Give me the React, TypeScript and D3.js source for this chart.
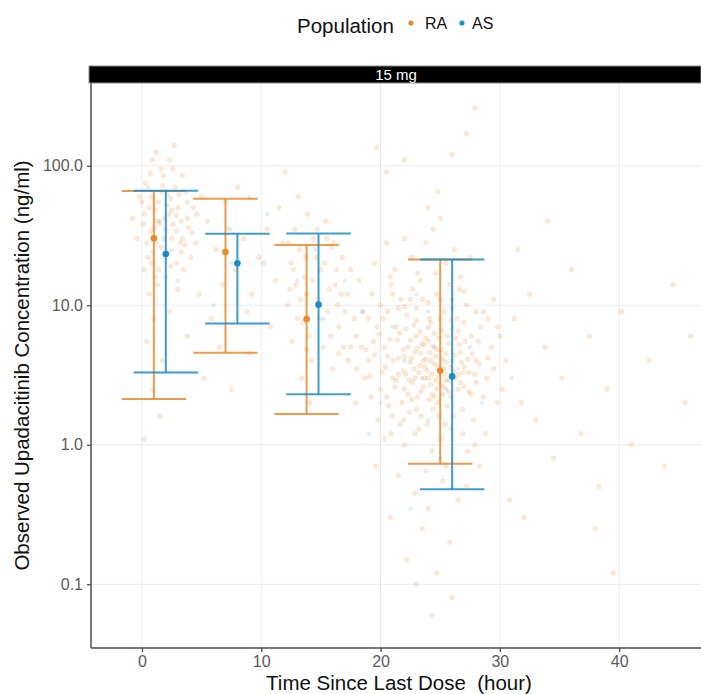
import React, { useEffect, useRef } from 'react';
import * as d3 from 'd3';

// Error bar summary per population: time, mean, lower, upper
const raTimes = [1.0, 7.0, 13.8, 25.0];
const raMeans = [30.2, 24.1, 7.96, 3.39];
const raLower = [2.13, 4.57, 1.66, 0.73];
const raUpper = [65.9, 57.9, 27.0, 21.3];

const asTimes = [2.0, 8.0, 14.8, 26.0];
const asMeans = [23.3, 20.0, 10.1, 3.09];
const asLower = [3.3, 7.41, 2.3, 0.479];
const asUpper = [66.3, 32.5, 32.7, 21.3];

const xTicks = [0, 10, 20, 30, 40];
const yTicks = [0.1, 1, 10, 100];

// Observed points (time, concentration)
const raPoints: [number, number][] = [
  [0.2, 45], [0.8, 60], [1.5, 38], [2.1, 52], [2.8, 70], [1.2, 28], [0.5, 22], [3.3, 40], [1.8, 85], [2.5, 30],
  [0.9, 110], [3.8, 55], [1.4, 18], [2.2, 24], [0.3, 75], [2.9, 20], [4.2, 33], [1.1, 48], [1.9, 42], [2.6, 95],
  [3.1, 62], [0.7, 34], [1.6, 26], [2.4, 58], [3.6, 27], [4.6, 45], [-0.4, 30], [1.3, 14], [2.0, 16], [0.6, 12],
  [3.0, 13], [1.0, 8], [2.3, 9], [0.4, 5.5], [1.7, 4], [0.9, 2.5], [1.5, 1.6], [0.2, 1.1], [3.5, 18], [4.1, 22],
  [2.7, 140], [1.2, 125], [5.0, 60], [3.4, 85], [0.0, 55], [2.0, 35], [1.6, 65], [2.9, 44], [3.9, 36], [0.8, 20],
  [0.1, 38], [0.6, 50], [1.0, 36], [1.4, 55], [1.8, 30], [2.2, 45], [2.6, 38], [3.0, 50], [3.4, 30], [3.8, 42],
  [0.4, 28], [0.9, 24], [1.3, 40], [1.7, 72], [2.1, 62], [2.5, 48], [2.9, 34], [3.3, 24], [3.7, 65], [4.3, 50],
  [0.2, 18], [1.1, 16], [2.4, 19], [3.2, 28], [4.5, 28], [1.6, 95], [0.7, 88], [2.3, 110], [-0.2, 60], [-0.8, 42],
  [5.5, 40], [6.2, 25], [7.0, 55], [7.8, 18], [8.5, 30], [9.2, 12], [5.8, 8], [6.8, 14], [8.0, 70], [9.8, 22],
  [10.5, 35], [11.2, 15], [10.8, 7], [6.5, 5], [9.0, 4.5], [4.8, 12], [7.3, 35], [11.5, 50], [12.0, 90], [5.2, 3],
  [8.8, 9], [10.2, 20], [3.8, 6], [7.5, 2.5], [11.8, 28],
  [12.5, 20], [13.2, 25], [13.8, 12], [14.4, 30], [15.0, 18], [15.6, 9], [16.2, 14], [13.0, 8], [14.0, 6], [12.8, 35],
  [15.4, 40], [16.8, 22], [12.2, 10], [13.6, 16], [14.8, 11], [15.9, 26], [16.5, 7], [17.2, 12], [14.2, 4], [13.4, 3],
  [15.2, 5], [12.6, 5.5], [16.0, 3.5], [17.5, 18], [14.6, 22], [13.9, 45], [12.9, 14], [15.7, 13], [16.9, 5], [14.1, 2],
  [17.8, 8], [12.3, 28], [13.1, 60], [15.5, 30], [16.4, 10],
  [12.7, 18], [13.3, 11], [13.7, 22], [14.3, 15], [14.9, 8], [15.3, 20], [15.8, 6], [16.3, 18], [16.7, 12], [13.5, 7.5],
  [14.7, 35], [12.4, 13], [17.3, 4], [16.1, 28], [13.8, 4.8],
  [21.0, 3.0], [21.5, 4.2], [22.0, 2.5], [22.3, 5.0], [22.8, 3.5], [23.1, 2.2], [23.4, 4.5], [23.7, 3.0], [24.0, 5.5], [24.2, 2.7],
  [24.5, 3.8], [24.8, 2.0], [25.1, 4.8], [25.4, 3.2], [25.7, 2.4], [26.0, 4.0], [26.3, 3.0], [26.6, 5.2], [27.0, 2.6], [22.5, 3.9],
  [23.9, 3.4], [24.6, 4.3], [25.9, 3.6], [21.8, 2.0], [23.3, 6.5], [24.4, 1.8], [25.6, 6.0], [26.8, 3.9], [22.1, 6.8], [24.9, 3.1],
  [23.6, 2.6], [25.2, 2.3],
  [21.2, 2.6], [21.9, 3.4], [22.4, 2.9], [22.9, 4.6], [23.3, 3.7], [23.8, 4.1], [24.3, 3.2], [24.7, 2.5], [25.3, 3.5], [25.8, 2.9],
  [26.2, 4.4], [26.7, 2.8], [27.3, 4.1], [22.6, 2.1], [23.6, 5.2], [24.5, 6.3], [25.5, 4.5], [26.5, 6.5], [21.4, 5.6], [22.8, 7.2],
  [24.2, 7.5], [25.9, 7.8], [23.0, 1.8], [24.1, 2.1], [25.6, 1.9], [27.6, 2.3], [20.6, 4.3], [21.0, 1.6], [27.9, 3.2], [24.9, 5.8],
  [19.1, 3.1], [19.5, 4.4], [19.9, 6.2], [20.1, 3.3], [20.5, 2.2], [20.8, 5.7], [21.1, 4.0], [21.3, 2.9], [21.6, 6.3], [21.9, 4.8],
  [22.1, 3.2], [22.3, 2.3], [22.5, 5.6], [22.7, 2.8], [22.9, 3.0], [23.1, 4.9], [23.2, 3.3], [23.4, 2.4], [23.6, 4.0], [23.8, 5.8],
  [24.0, 3.0], [24.1, 4.6], [24.3, 2.3], [24.4, 5.1], [24.6, 2.9], [24.8, 3.6], [25.0, 2.7], [25.1, 6.6], [25.3, 2.6], [25.5, 3.9],
  [25.7, 5.3], [25.9, 2.2], [26.1, 3.4], [26.3, 5.8], [26.5, 2.5], [26.7, 4.6], [26.9, 3.3], [27.1, 5.5], [27.4, 2.4], [27.7, 4.5],
  [28.0, 2.8], [28.3, 3.8], [28.6, 2.2], [29.0, 4.2], [22.0, 4.3], [23.0, 6.0], [24.0, 6.9], [25.0, 8.0], [26.0, 6.9], [27.0, 3.6],
  [21.5, 3.2], [22.6, 4.2], [23.5, 5.3], [24.5, 2.2], [25.5, 2.9], [26.5, 3.2], [24.2, 4.0], [23.7, 3.6], [25.2, 4.1], [24.7, 4.8],
  [20.0, 10], [21.0, 12], [22.0, 9.8], [23.0, 7.8], [24.0, 10.5], [25.0, 11], [26.0, 9.5], [27.0, 12.5], [28.0, 9], [22.5, 11],
  [20.9, 1.2], [21.9, 1.5], [22.9, 1.2], [23.9, 1.4], [24.9, 1.6], [25.9, 1.3], [26.9, 1.8], [27.9, 1.0], [23.4, 1.6], [25.4, 1.4],
  [19.0, 8], [18.4, 5], [29.5, 3.5], [30.2, 2.5], [17.0, 9], [18.0, 3.5], [16.5, 4.5], [29.8, 7], [20.8, 16], [26.6, 13],
  [18.0, 6], [18.5, 9], [19.0, 4], [19.3, 12], [19.7, 7], [20.0, 2.5], [20.3, 5], [20.6, 9], [20.9, 14], [21.3, 7],
  [21.7, 11], [22.2, 8.5], [22.7, 13], [23.0, 9.5], [23.5, 11], [24.1, 8], [24.7, 12], [25.3, 9], [25.8, 14], [26.4, 8],
  [27.2, 10], [27.6, 6], [28.0, 4], [28.4, 7], [28.9, 3], [29.3, 5], [29.8, 2], [27.8, 1.5], [26.9, 1.2], [26.1, 1.6],
  [25.0, 1.1], [24.3, 0.9], [23.2, 1.3], [22.4, 1.7], [21.6, 1.4], [20.7, 1.9], [19.8, 1.5], [19.2, 2.2], [18.7, 3], [17.9, 2],
  [20.4, 3.6], [28.6, 9], [27.4, 3.3], [29.5, 11],
  [19.4, 5.5], [20.2, 8], [21.5, 9.5], [23.3, 15], [24.6, 17], [26.0, 11], [27.0, 7.5], [28.2, 5.5], [28.8, 1.2], [27.3, 0.9],
  [25.5, 0.7], [23.8, 0.65], [22.0, 1.0], [20.3, 1.1], [18.8, 4.8], [17.5, 5], [29.0, 8], [30.0, 6],
  [21.2, 18], [22.6, 22], [23.8, 28], [24.4, 35], [25.5, 20], [26.2, 25], [24.0, 50], [25.0, 42], [23.1, 17], [26.7, 16],
  [22.0, 30], [27.5, 22], [19.5, 20], [20.5, 28], [24.8, 65], [18.2, 15],
  [21.5, 0.6], [22.9, 0.45], [24.0, 0.35], [25.2, 0.55], [26.5, 0.4], [23.5, 0.25], [25.8, 0.2], [22.2, 0.15], [24.7, 0.12], [27.2, 0.5],
  [20.8, 0.3], [26.0, 0.08], [23.0, 0.1], [28.3, 0.7], [19.6, 0.7], [24.3, 0.06],
  [30.5, 4], [31.2, 8], [31.8, 2], [32.5, 12], [33.0, 1.5], [33.8, 5], [34.5, 0.8], [35.2, 3], [36.0, 18], [36.8, 1.2],
  [37.5, 6], [38.3, 0.5], [39.0, 2.5], [40.2, 9], [41.0, 1], [42.5, 4], [43.8, 0.7], [44.5, 14], [45.5, 2], [31.5, 25],
  [34.0, 40], [38.0, 0.25], [30.8, 0.4], [32.0, 0.3], [46.0, 6], [39.5, 0.12],
  [27.9, 260], [27.2, 170], [19.7, 135], [22.0, 110], [26.0, 120], [20.5, 90],
];

const asPoints: [number, number][] = [
  [1.5, 40], [2.5, 25], [0.5, 70], [3.0, 15], [7.5, 20], [9.0, 60], [14.5, 25], [15.2, 8], [13.0, 15], [22.0, 4],
  [23.5, 3], [24.5, 5], [25.5, 2.5], [21.0, 7], [26.5, 3.5], [23.0, 12], [24.0, 1.5], [27.5, 5], [20.0, 2], [25.0, 0.8],
  [22.5, 0.35], [18.5, 9], [28.5, 2], [26.0, 0.5], [19.0, 1.2], [31.0, 3], [10.5, 45], [6.0, 10], [17.0, 15], [24.0, 9],
];

const RA_COLOR = '#E8892E';
const AS_COLOR = '#1B8DC6';
const FONT = "'Liberation Sans', Arial, sans-serif";

function App() {
  const chartRef = useRef<SVGSVGElement>(null);

  useEffect(() => {
    const svg = d3.select(chartRef.current);
    svg.selectAll('*').remove();

    // panel bounds
    const left = 91;
    const right = 701;
    const top = 83;
    const bottom = 648;

    const x = d3.scaleLinear().domain([-4.27, 46.86]).range([left, right]);
    const y = d3.scaleLog().domain([0.0349, 392]).range([bottom, top]);

    // grid
    svg.append('g')
      .selectAll('line')
      .data(xTicks)
      .join('line')
      .attr('x1', (d) => x(d)).attr('x2', (d) => x(d))
      .attr('y1', top).attr('y2', bottom)
      .attr('stroke', '#ebebeb').attr('stroke-width', 1);
    svg.append('g')
      .selectAll('line')
      .data(yTicks)
      .join('line')
      .attr('x1', left).attr('x2', right)
      .attr('y1', (d) => y(d)).attr('y2', (d) => y(d))
      .attr('stroke', '#ebebeb').attr('stroke-width', 1);

    // observed points
    svg.append('g')
      .selectAll('circle')
      .data(raPoints)
      .join('circle')
      .attr('cx', (d) => x(d[0]))
      .attr('cy', (d) => y(d[1]))
      .attr('r', 2.4)
      .attr('fill', RA_COLOR)
      .attr('fill-opacity', 0.19)
      .attr('stroke', RA_COLOR)
      .attr('stroke-opacity', 0.12)
      .attr('stroke-width', 0.8);
    svg.append('g')
      .selectAll('circle')
      .data(asPoints)
      .join('circle')
      .attr('cx', (d) => x(d[0]))
      .attr('cy', (d) => y(d[1]))
      .attr('r', 2.2)
      .attr('fill', AS_COLOR)
      .attr('fill-opacity', 0.14);

    // error bars
    const capHalf = 2.7;
    const drawBars = (times, means, lower, upper, color) => {
      const g = svg.append('g').attr('stroke', color).attr('stroke-opacity', 0.85).attr('stroke-width', 2);
      times.forEach((t, i) => {
        g.append('line')
          .attr('x1', x(t)).attr('x2', x(t))
          .attr('y1', y(lower[i])).attr('y2', y(upper[i]));
        g.append('line')
          .attr('x1', x(t - capHalf)).attr('x2', x(t + capHalf))
          .attr('y1', y(upper[i])).attr('y2', y(upper[i]));
        g.append('line')
          .attr('x1', x(t - capHalf)).attr('x2', x(t + capHalf))
          .attr('y1', y(lower[i])).attr('y2', y(lower[i]));
      });
      svg.append('g')
        .selectAll('circle')
        .data(times)
        .join('circle')
        .attr('cx', (d) => x(d))
        .attr('cy', (d, i) => y(means[i]))
        .attr('r', 3.3)
        .attr('fill', color);
    };
    drawBars(raTimes, raMeans, raLower, raUpper, RA_COLOR);
    drawBars(asTimes, asMeans, asLower, asUpper, AS_COLOR);

    // axes
    const xAxis = svg.append('g')
      .attr('transform', `translate(0,${bottom})`)
      .call(d3.axisBottom(x).tickValues(xTicks).tickSize(4).tickPadding(4).tickFormat(d3.format('d')));
    const yAxis = svg.append('g')
      .attr('transform', `translate(${left},0)`)
      .call(d3.axisLeft(y).tickValues(yTicks).tickSize(4).tickPadding(4).tickFormat(d3.format('.1f')));
    [xAxis, yAxis].forEach((a) => {
      a.select('.domain').attr('stroke', '#4d4d4d').attr('stroke-width', 1.5);
      a.selectAll('.tick line').attr('stroke', '#4d4d4d').attr('stroke-width', 1.3);
      a.selectAll('.tick text')
        .attr('fill', '#5a5a5a')
        .style('font-family', FONT)
        .style('font-size', '16px');
    });
    xAxis.select('.domain').attr('d', `M${left},0H${right}`);
    yAxis.select('.domain').attr('d', `M0,${top}V${bottom}`);

    // strip
    svg.append('rect')
      .attr('x', 89).attr('y', 66)
      .attr('width', 612).attr('height', 17)
      .attr('fill', '#000')
      .attr('stroke', '#8a8a8a').attr('stroke-width', 1);
    svg.append('text')
      .attr('x', (left + right) / 2).attr('y', 79.5)
      .attr('text-anchor', 'middle')
      .attr('fill', '#fff')
      .style('font-family', FONT).style('font-size', '15px')
      .text('15 mg');

    // axis titles
    svg.append('text')
      .attr('x', 399).attr('y', 690)
      .attr('text-anchor', 'middle')
      .attr('fill', '#111')
      .style('font-family', FONT).style('font-size', '20.5px')
      .style('white-space', 'pre')
      .text('Time Since Last Dose  (hour)');
    svg.append('text')
      .attr('transform', `translate(29,${(top + bottom) / 2}) rotate(-90)`)
      .attr('text-anchor', 'middle')
      .attr('fill', '#111')
      .style('font-family', FONT).style('font-size', '20.5px')
      .text('Observed Upadacitinib Concentration (ng/ml)');

    // legend
    const legend = svg.append('g');
    legend.append('text')
      .attr('x', 297).attr('y', 33)
      .attr('fill', '#111')
      .style('font-family', FONT).style('font-size', '20.5px')
      .text('Population');
    const items = [
      { label: 'RA', color: RA_COLOR, dot: 411, tx: 425 },
      { label: 'AS', color: AS_COLOR, dot: 462, tx: 472 },
    ];
    items.forEach((it) => {
      legend.append('circle').attr('cx', it.dot).attr('cy', 23).attr('r', 2.6).attr('fill', it.color);
      legend.append('text')
        .attr('x', it.tx).attr('y', 29)
        .attr('fill', '#111')
        .style('font-family', FONT).style('font-size', '16px')
        .text(it.label);
    });
  }, []);

  return (
    <svg
      ref={chartRef}
      width={701}
      height={694}
      style={{ position: 'absolute', left: 0, top: 0, background: '#fff' }}
    />
  );
}

export default App;
